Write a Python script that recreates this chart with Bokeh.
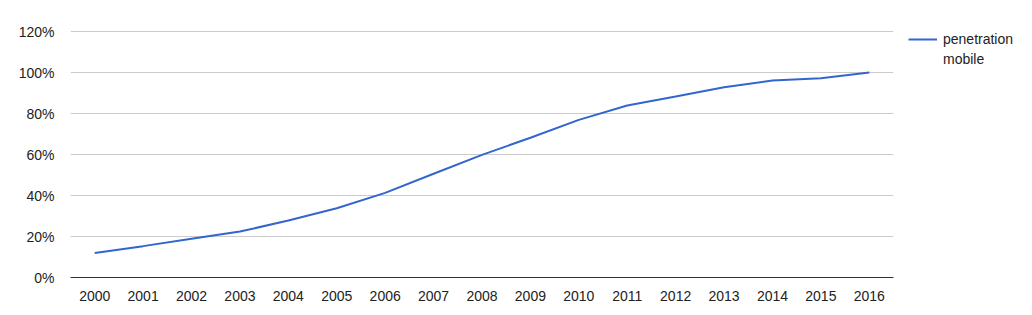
from bokeh.plotting import figure
from bokeh.layouts import row
from bokeh.models import FixedTicker, PrintfTickFormatter, Range1d, Legend, LegendItem
from bokeh.embed import file_html
from bokeh.resources import INLINE

years = list(range(2000, 2017))
penetration = [12.0, 15.3, 18.9, 22.4, 27.8, 33.8, 41.3, 50.6, 59.8, 68.2,
               76.9, 83.9, 88.3, 92.8, 96.1, 97.2, 100.0]
y_ticks = [0, 20, 40, 60, 80, 100, 120]
legend_lines = ["penetration", "mobile"]

FONT = "Liberation Sans"
FONT_SIZE = "14px"
TEXT_COLOR = "#222222"
LINE_COLOR = "#3366cc"

# frame spans 27..277 px vertically; 120% sits at 31 px
y_top = 120 * 250 / 246

p = figure(width=900, height=315, output_backend="svg", toolbar_location=None,
           x_range=Range1d(1999.5, 2016.5), y_range=Range1d(0, y_top),
           min_border_left=70, min_border_right=7, min_border_top=27,
           min_border_bottom=38)
p.outline_line_color = None
p.background_fill_color = "white"
p.border_fill_color = "white"

r = p.line(years, penetration, line_color=LINE_COLOR, line_width=2)

p.xaxis.ticker = FixedTicker(ticks=years)
p.xaxis.formatter = PrintfTickFormatter(format="%d")
p.yaxis.ticker = FixedTicker(ticks=y_ticks)
p.yaxis.formatter = PrintfTickFormatter(format="%d%%")

for ax in (p.xaxis[0], p.yaxis[0]):
    ax.major_tick_line_color = None
    ax.minor_tick_line_color = None
    ax.major_label_text_font = FONT
    ax.major_label_text_font_size = FONT_SIZE
    ax.major_label_text_color = TEXT_COLOR
p.yaxis.axis_line_color = None
p.yaxis.major_label_standoff = 10
p.xaxis.axis_line_color = "#333333"
p.xaxis.axis_line_width = 1
p.xaxis.major_label_standoff = 7

p.xgrid.grid_line_color = None
p.ygrid.grid_line_color = "#cccccc"
p.ygrid.grid_line_width = 1

# legend panel (its frame is aligned with the main frame: 27..277 px)
q = figure(width=132, height=315, output_backend="svg", toolbar_location=None,
           x_range=Range1d(0, 1), y_range=Range1d(0, 1),
           x_axis_location=None, y_axis_location=None,
           min_border_left=0, min_border_right=0,
           min_border_top=27, min_border_bottom=38)
q.outline_line_color = None
q.grid.grid_line_color = None
q.border_fill_color = "white"
q.background_fill_color = "white"
# proxy renderer for the legend swatch, kept outside the visible range
lr = q.line([5, 6], [5, 5], line_color=LINE_COLOR, line_width=2)

legend = Legend(items=[LegendItem(label=legend_lines[0], renderers=[lr]),
                       LegendItem(label=legend_lines[1], renderers=[])],
                location=(8, 208), orientation="vertical",
                margin=0, padding=0, spacing=0, border_line_color=None,
                background_fill_alpha=0,
                glyph_width=29, glyph_height=20, label_height=20,
                label_standoff=6,
                label_text_font=FONT, label_text_font_size=FONT_SIZE,
                label_text_color=TEXT_COLOR)
q.add_layout(legend, "center")

open("out.html", "w").write(file_html(row(p, q), INLINE))
